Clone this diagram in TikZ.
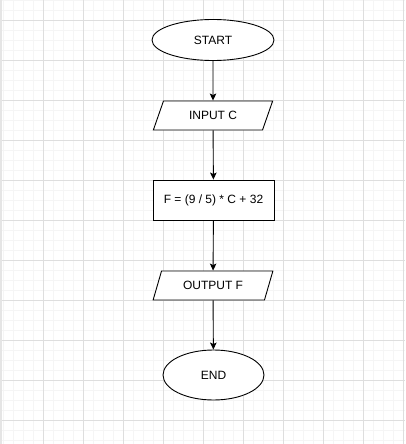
\documentclass[tikz,border=0pt]{standalone}
\usepackage{fontspec}
\setmainfont{Liberation Sans}
\usetikzlibrary{shapes.geometric,arrows.meta}
\tikzset{
  flow/.style={draw=black, line width=0.9pt, fill=white, font=\fontsize{12}{14}\selectfont, inner sep=0pt},
  term/.style={flow, ellipse},
  io/.style={flow, trapezium, trapezium left angle=60, trapezium right angle=120, trapezium stretches=true},
  proc/.style={flow, rectangle},
  link/.style={draw=black, line width=0.9pt, -{Stealth[length=7pt,width=6.5pt,inset=1.5pt]}},
  minorgrid/.style={draw=black!4, line width=0.5pt},
  majorgrid/.style={draw=black!13, line width=0.6pt}
}
\begin{document}
\begin{tikzpicture}[x=1pt,y=-1pt]
\useasboundingbox (0,0) rectangle (405,444);
\fill[white] (0,0) rectangle (405,444);
% grid
\foreach \x in {3,13,...,403} \draw[minorgrid] (\x,0) -- (\x,444);
\foreach \y in {0,10,...,440} \draw[minorgrid] (0,\y) -- (405,\y);
\foreach \x in {43,83,...,403} \draw[majorgrid] (\x,0) -- (\x,444);
\foreach \y in {20,60,...,420} \draw[majorgrid] (0,\y) -- (405,\y);
\fill[black!10] (0,0) rectangle (2,444);
% nodes
\node[term, minimum width=122pt, minimum height=41pt] (start) at (213,40) {START};
\node[io, minimum width=120pt, minimum height=29pt] (input) at (213,115.5) {INPUT C};
\node[proc, minimum width=121pt, minimum height=40pt] (calc) at (213.5,200) {F = (9 / 5) * C + 32};
\node[io, minimum width=120pt, minimum height=29pt] (output) at (213,285.5) {OUTPUT F};
\node[term, minimum width=101pt, minimum height=50pt] (end) at (213.5,375) {END};
% connectors
\draw[link] (start) -- (input);
\draw[link] (input) -- (calc);
\draw[link] (calc) -- (output);
\draw[link] (output) -- (end);
\end{tikzpicture}
\end{document}
